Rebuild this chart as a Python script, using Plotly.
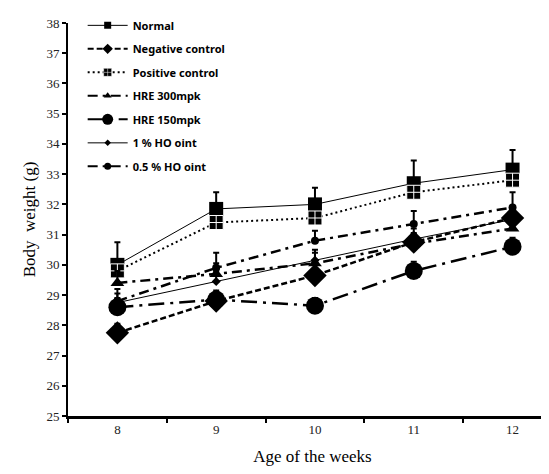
import plotly.graph_objects as go

weeks = [8, 9, 10, 11, 12]
tick_labels = ["8", "9", "10", "11", "12"]

normal = [30.0, 31.85, 32.0, 32.7, 33.15]
normal_err = [0.75, 0.55, 0.55, 0.75, 0.65]

negative = [27.75, 28.8, 29.65, 30.75, 31.55]
negative_err = [0.3, 0.3, 0.35, 0.3, 0.35]

positive = [29.8, 31.4, 31.55, 32.4, 32.8]
positive_err = [0.35, 0.35, 0.35, 0.3, 0.3]

hre300 = [29.4, 29.7, 30.05, 30.7, 31.2]
hre300_err = [0.4, 0.35, 0.35, 0.3, 0.3]

hre150 = [28.6, 28.85, 28.65, 29.8, 30.6]
hre150_err = [0.3, 0.3, 0.25, 0.3, 0.3]

ho1 = [28.75, 29.45, 30.15, 30.85, 31.5]
ho1_err = [0.3, 0.35, 0.35, 0.35, 0.35]

ho05 = [28.8, 29.9, 30.8, 31.35, 31.9]
ho05_err = [0.4, 0.5, 0.33, 0.43, 0.5]

# name, values, errors, line style, plot marker, legend marker size
series = [
    ("Normal", normal, normal_err, dict(color="black", width=1, dash="solid"),
     dict(symbol="square", size=14), 7),
    ("Negative control", negative, negative_err, dict(color="black", width=2.5, dash="6px,3px"),
     dict(symbol="diamond", size=18), 8),
    ("Positive control", positive, positive_err, dict(color="black", width=2, dash="2px,3px"),
     dict(symbol="square-cross", size=14, line=dict(color="white", width=1)), 8),
    ("HRE 300mpk", hre300, hre300_err, dict(color="black", width=2.5, dash="10px,5px,3px,5px"),
     dict(symbol="triangle-up", size=12), 7),
    ("HRE 150mpk", hre150, hre150_err, dict(color="black", width=2.5, dash="16px,6px,3px,6px"),
     dict(symbol="circle", size=18), 11),
    ("1 % HO oint", ho1, ho1_err, dict(color="black", width=1, dash="solid"),
     dict(symbol="diamond", size=7), 5),
    ("0.5 % HO oint", ho05, ho05_err, dict(color="black", width=2.5, dash="10px,5px,3px,5px"),
     dict(symbol="circle", size=8), 7),
]

fig = go.Figure()
for i, (name, vals, errs, line, marker, leg_size) in enumerate(series):
    mk = dict(color="black")
    mk.update(marker)
    fig.add_trace(go.Scatter(
        x=weeks, y=vals, name=name, mode="lines+markers",
        line=line, marker=mk, legendgroup=name, showlegend=False,
        error_y=dict(type="data", array=errs, arrayminus=[0] * len(errs),
                     color="black", thickness=2, width=3),
    ))
    lmk = dict(mk)
    lmk["size"] = leg_size
    if "line" in lmk:
        lmk["line"] = dict(color="white", width=0.5)
    lline = dict(line)
    lline["width"] = min(line["width"], 2)
    fig.add_trace(go.Scatter(
        x=[None], y=[None], name=name, mode="lines+markers",
        line=lline, marker=lmk, legendgroup=name, showlegend=True,
    ))

serif = "Liberation Serif"
fig.update_layout(
    width=549, height=474,
    margin=dict(l=60, r=0, t=15, b=66, autoexpand=False),
    paper_bgcolor="white", plot_bgcolor="white",
    showlegend=True,
    legend=dict(x=0.03, y=0.994, yref="container", xanchor="left", yanchor="top",
                bgcolor="rgba(0,0,0,0)", tracegroupgap=4.5, itemsizing="trace",
                font=dict(family="Noto Sans", size=11, color="black", weight="bold"),
                itemwidth=40),
    xaxis=dict(range=[7.5, 12.45], tickvals=weeks, ticktext=tick_labels,
               ticks="", showgrid=False, zeroline=False, automargin=False,
               showline=True, linecolor="black", linewidth=2.5,
               tickfont=dict(family=serif, size=13, color="#222"),
               minor=dict(tick0=7.5, dtick=1, ticks="outside", ticklen=4,
                          tickcolor="black", tickwidth=2, showgrid=False),
               title=dict(text="Age of the weeks", font=dict(family=serif, size=17, color="black"),
                          standoff=14)),
    yaxis=dict(range=[25, 38], dtick=1, ticks="outside", ticklen=4, tickwidth=2,
               tickcolor="black", showgrid=False, zeroline=False, automargin=False,
               showline=True, linecolor="black", linewidth=2,
               tickfont=dict(family=serif, size=13, color="#222"),
               title=dict(text="Body  weight (g)", font=dict(family=serif, size=17, color="black"),
                          standoff=6)),
)

fig.write_html("out.html")
